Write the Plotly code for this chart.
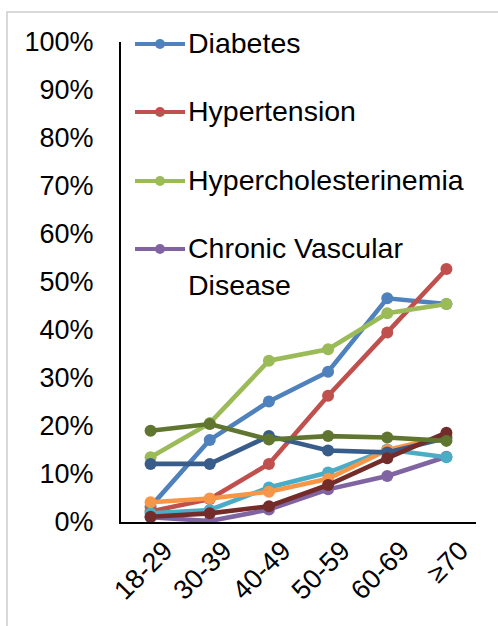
import plotly.graph_objects as go

# Age bands on the x axis
age_groups = ["18-29", "30-39", "40-49", "50-59", "60-69", "≥70"]

# Prevalence by age band (fraction of patients)
diabetes = [0.032, 0.171, 0.251, 0.313, 0.466, 0.454]
hypertension = [0.022, 0.048, 0.121, 0.263, 0.395, 0.527]
hypercholesterinemia = [0.135, 0.206, 0.336, 0.360, 0.435, 0.454]
chronic_vascular = [0.010, 0.002, 0.026, 0.068, 0.096, 0.136]
series_5 = [0.018, 0.025, 0.072, 0.103, 0.151, 0.135]
series_6 = [0.041, 0.049, 0.063, 0.090, 0.150, 0.179]
series_7 = [0.121, 0.121, 0.179, 0.149, 0.145, 0.175]
series_8 = [0.011, 0.018, 0.033, 0.077, 0.133, 0.186]
series_9 = [0.190, 0.204, 0.172, 0.179, 0.176, 0.169]

# Y axis ticks
y_ticks = [i / 10 for i in range(11)]
y_tick_labels = [f"{i * 10}%" for i in range(11)]

series = [
    ("Diabetes", diabetes, "#4F81BD", True),
    ("Hypertension", hypertension, "#C0504D", True),
    ("Hypercholesterinemia", hypercholesterinemia, "#9BBB59", True),
    ("Chronic Vascular<br>Disease", chronic_vascular, "#8064A2", True),
    ("Series 5", series_5, "#4BACC6", False),
    ("Series 6", series_6, "#F79646", False),
    ("Series 7", series_7, "#385D8A", False),
    ("Series 8", series_8, "#742C2A", False),
    ("Series 9", series_9, "#5F7530", False),
]

W, H = 498, 626
ML, MR, MT, MB = 121, 22, 42, 104
PW, PH = W - ML - MR, H - MT - MB


def px(x):
    return (x - ML) / PW


def py(y):
    return (H - MB - y) / PH


FONT = "Arial, Liberation Sans, sans-serif"

fig = go.Figure()
for name, vals, color, _ in series:
    fig.add_trace(go.Scatter(
        x=age_groups, y=vals, name=name, mode="lines+markers",
        line=dict(color=color, width=4.6),
        marker=dict(color=color, size=12),
        showlegend=False,
    ))

# Hand-drawn legend block inside the plot area
shapes = []
annotations = []
row_y = [44, 112, 181, 249]
for (name, _, color, in_legend), yy in zip(series, row_y):
    shapes.append(dict(type="line", xref="paper", yref="paper",
                       x0=px(135), x1=px(185), y0=py(yy), y1=py(yy),
                       line=dict(color=color, width=4)))
    shapes.append(dict(type="circle", xref="paper", yref="paper",
                       x0=px(155), x1=px(165), y0=py(yy - 5), y1=py(yy + 5),
                       fillcolor=color, line=dict(color=color, width=0)))
    annotations.append(dict(xref="paper", yref="paper", x=px(186), y=py(yy - 19),
                            xanchor="left", yanchor="top", align="left",
                            showarrow=False, text=name,
                            font=dict(family=FONT, size=28.5, color="#000000")))

# Light grey chart frame
shapes.append(dict(type="rect", xref="paper", yref="paper",
                   x0=px(7), x1=px(520), y0=py(640), y1=py(12),
                   line=dict(color="#D9D9D9", width=2), layer="below"))

fig.update_layout(
    width=W, height=H,
    margin=dict(l=ML, r=MR, t=MT, b=MB),
    paper_bgcolor="white", plot_bgcolor="white",
    font=dict(family=FONT, size=27, color="#000000"),
    shapes=shapes, annotations=annotations,
    xaxis=dict(
        type="category", range=[-0.5, 5.5],
        showline=True, linecolor="#000000", linewidth=2,
        showgrid=False, zeroline=False, ticks="",
        tickangle=-45, tickfont=dict(size=27), ticklabelshift=14,
    ),
    yaxis=dict(
        range=[0, 1], tickvals=y_ticks, ticktext=y_tick_labels,
        showline=True, linecolor="#000000", linewidth=2,
        showgrid=False, zeroline=False, ticks="",
        ticklabelstandoff=20, tickfont=dict(size=27),
    ),
)

fig.write_html("out.html")
